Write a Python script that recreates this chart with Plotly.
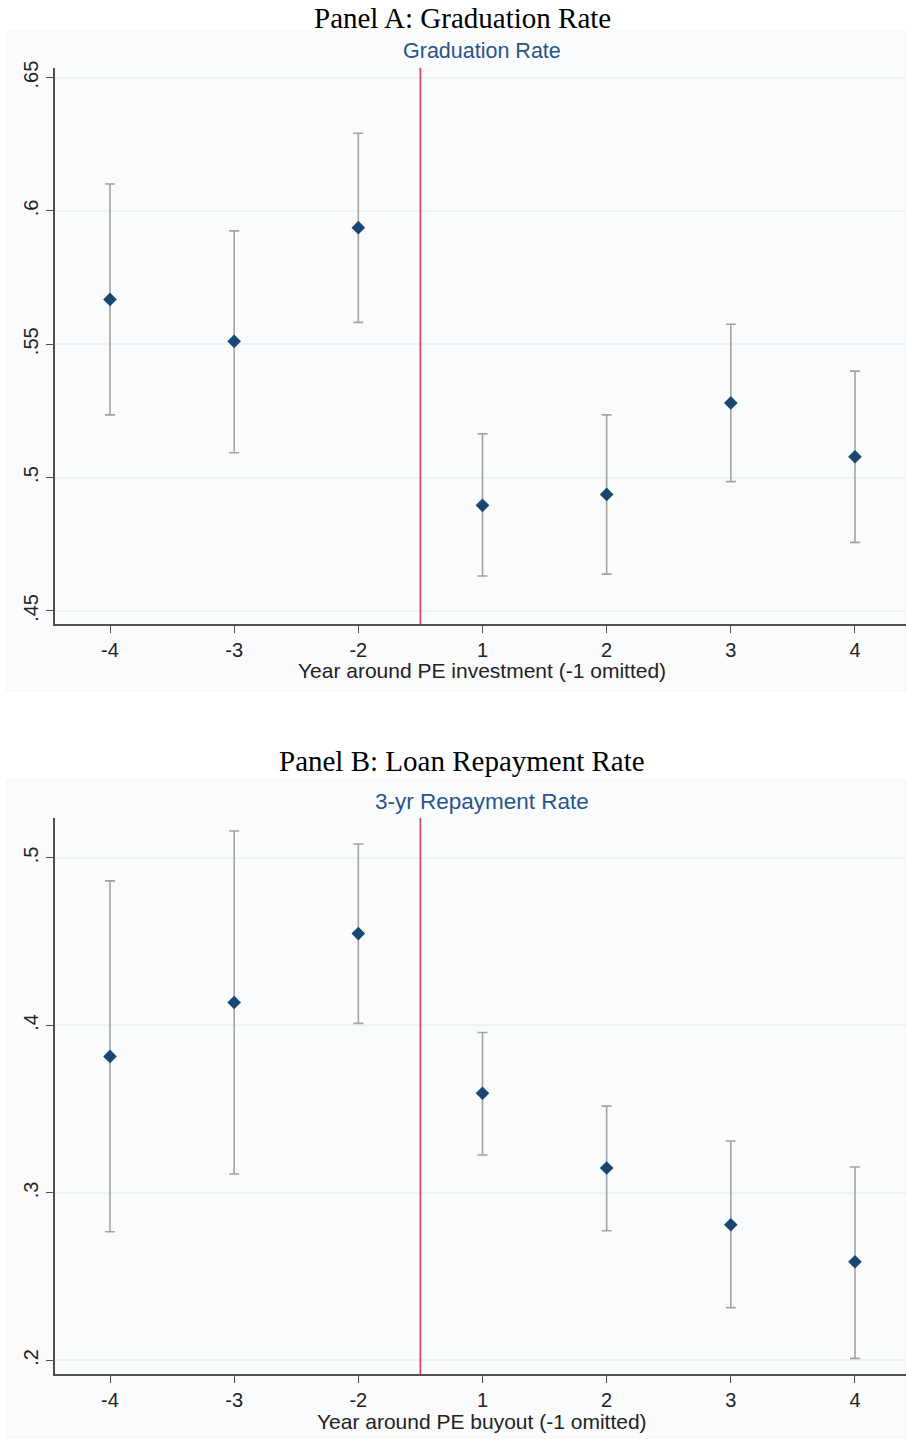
import plotly.graph_objects as go

# ---------------- data ----------------
years = ["-4", "-3", "-2", "1", "2", "3", "4"]

grad_est = [0.5668, 0.5511, 0.5937, 0.4896, 0.4937, 0.5280, 0.5078]
grad_hi = [0.6101, 0.5925, 0.6291, 0.5164, 0.5235, 0.5575, 0.5399]
grad_lo = [0.5235, 0.5093, 0.5582, 0.4631, 0.4638, 0.4985, 0.4757]

repay_est = [0.3815, 0.4137, 0.4548, 0.3595, 0.3149, 0.2810, 0.2589]
repay_hi = [0.4863, 0.5161, 0.5083, 0.3958, 0.3518, 0.3310, 0.3155]
repay_lo = [0.2768, 0.3113, 0.4012, 0.3226, 0.2774, 0.2315, 0.2012]

grad_ticks = [0.45, 0.5, 0.55, 0.6, 0.65]
repay_ticks = [0.2, 0.3, 0.4, 0.5]

panel_titles = ["Panel A: Graduation Rate", "Panel B: Loan Repayment Rate"]
inner_titles = ["Graduation Rate", "3-yr Repayment Rate"]
x_titles = ["Year around PE investment (-1 omitted)", "Year around PE buyout (-1 omitted)"]

# ---------------- layout helpers ----------------
W, H = 906, 1439
def py(y):
    return 1 - y / H

xpos = list(range(len(years)))
omitted_pos = 2.5  # between -2 and 1 (the omitted -1 year)

NAVY = "#1a476f"
GRAY = "#a3a3a3"
RED = "#d64a6f"
GRID = "#edf2f4"
AXIS = "#505050"
SANS = "Liberation Sans, Arial, sans-serif"
SERIF = "Liberation Serif, Times New Roman, serif"

fig = go.Figure()

panels = [
    dict(est=grad_est, hi=grad_hi, lo=grad_lo, ticks=grad_ticks, yr=[0.4451, 0.6537],
         dom=[py(620), py(61)], xa="x", ya="y", region=(25, 687),
         ptitle=11, ititle=44, xt=667, ifs=21.5),
    dict(est=repay_est, hi=repay_hi, lo=repay_lo, ticks=repay_ticks, yr=[0.1917, 0.5238],
         dom=[py(1374), py(815)], xa="x2", ya="y2", region=(777, 1439),
         ptitle=758, ititle=798, xt=1421, ifs=22.5),
]

shapes = []
annotations = []
for i, p in enumerate(panels):
    fig.add_trace(go.Scatter(
        x=xpos, y=p["est"], mode="markers", xaxis=p["xa"], yaxis=p["ya"],
        marker=dict(symbol="diamond", size=10.5, color=NAVY, line=dict(width=0)),
        error_y=dict(type="data", symmetric=False,
                     array=[h - e for h, e in zip(p["hi"], p["est"])],
                     arrayminus=[e - l for e, l in zip(p["est"], p["lo"])],
                     color=GRAY, thickness=1.6, width=5),
        showlegend=False,
    ))
    sfx = "" if i == 0 else "2"
    fig.update_layout(**{
        "xaxis" + sfx: dict(domain=[55 / W, 1], range=[-0.443, 6.411],
                            tickvals=xpos, ticktext=years, ticks="outside", ticklen=7,
                            tickcolor=AXIS, tickwidth=1.3, showline=True, linecolor=AXIS,
                            linewidth=1.5, showgrid=False, zeroline=False,
                            tickfont=dict(family=SANS, size=20, color="#222"),
                            anchor="y" + sfx),
        "yaxis" + sfx: dict(domain=p["dom"], range=p["yr"], tickvals=p["ticks"],
                            ticktext=[f"{v:g}".lstrip("0") for v in p["ticks"]],
                            tickangle=-90, ticks="outside", ticklen=7, tickcolor=AXIS,
                            tickwidth=1.3, showline=True, linecolor=AXIS, linewidth=1.5,
                            showgrid=True, gridcolor=GRID, gridwidth=1.5, zeroline=False,
                            tickfont=dict(family=SANS, size=20, color="#222"),
                            anchor="x" + sfx),
    })
    # faint graph region
    shapes.append(dict(type="rect", xref="paper", yref="paper", x0=7 / W, x1=1,
                       y0=py(p["region"][1]), y1=py(p["region"][0]),
                       fillcolor="#fafbfc", line=dict(width=1, color="#f2f5f7"), layer="below"))
    # omitted-year vertical line
    shapes.append(dict(type="line", xref=p["xa"], yref=p["ya"] + " domain", x0=omitted_pos,
                       x1=omitted_pos, y0=0, y1=1, line=dict(color=RED, width=1.8)))
    annotations.append(dict(text=panel_titles[i], xref="paper", yref="paper", x=462 / W,
                            y=py(p["ptitle"]), showarrow=False, xanchor="center",
                            yanchor="middle", font=dict(family=SERIF, size=29, color="#000")))
    annotations.append(dict(text=inner_titles[i], xref="paper", yref="paper", x=482 / W,
                            y=py(p["ititle"]), showarrow=False, xanchor="center",
                            yanchor="middle", font=dict(family=SANS, size=p["ifs"], color="#2a5588")))
    annotations.append(dict(text=x_titles[i], xref="paper", yref="paper", x=482 / W,
                            y=py(p["xt"]), showarrow=False, xanchor="center",
                            yanchor="middle", font=dict(family=SANS, size=21, color="#222")))

fig.update_layout(width=W, height=H, margin=dict(l=0, r=0, t=0, b=0),
                  paper_bgcolor="white", plot_bgcolor="white",
                  shapes=shapes, annotations=annotations)

fig.write_html("out.html")
